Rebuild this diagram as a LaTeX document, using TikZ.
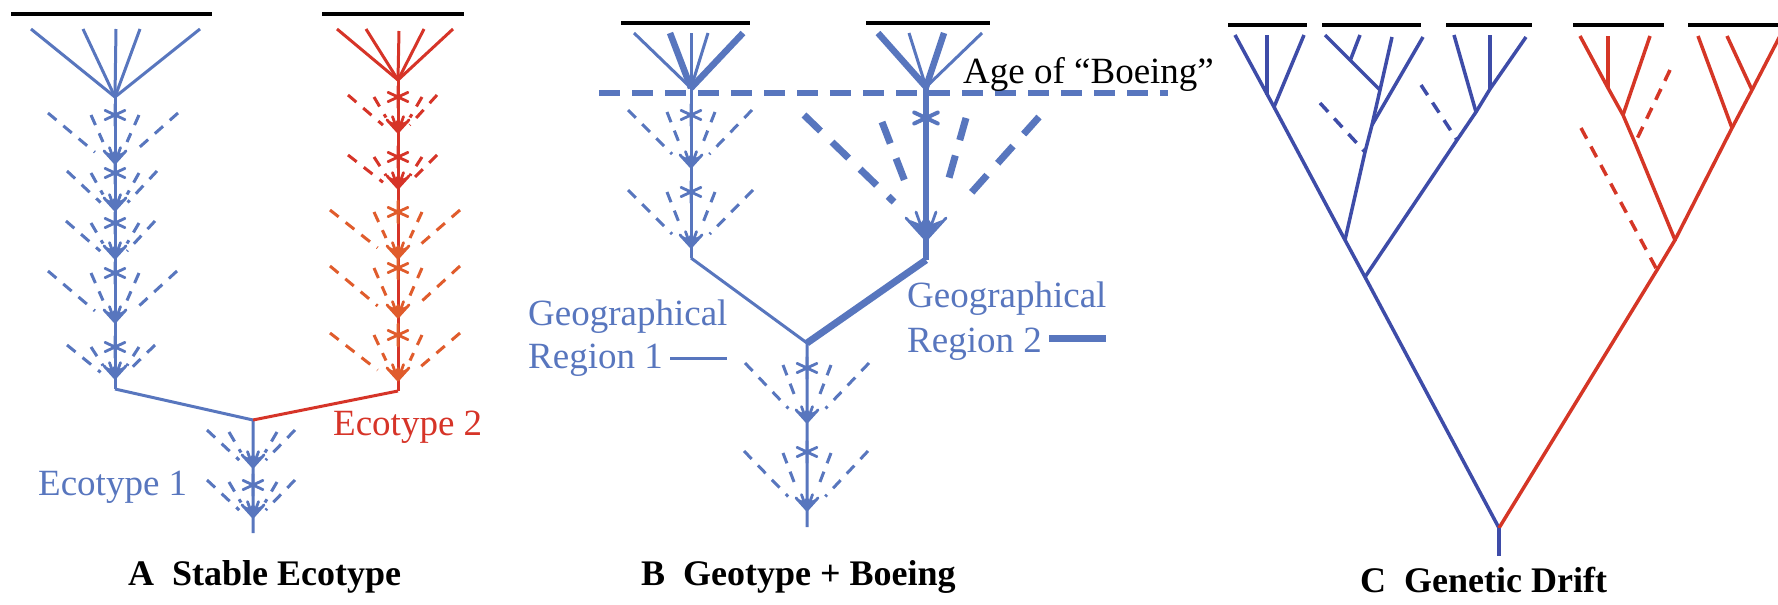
\documentclass[tikz,border=0pt]{standalone}
\usepackage{fontspec}
\setmainfont{Liberation Serif}
\usetikzlibrary{calc}
\definecolor{blueA}{RGB}{88,118,190}
\definecolor{redA}{RGB}{214,52,40}
\definecolor{orangeA}{RGB}{224,92,44}
\definecolor{blueC}{RGB}{62,76,168}
\definecolor{redC}{RGB}{213,54,38}
\tikzset{
  bar/.style={black, line width=3.5pt},
  solidA/.style={line width=3pt},
  dashA/.style={line width=3pt, dash pattern=on 11pt off 9pt},
  dashB/.style={line width=7pt, dash pattern=on 23pt off 16pt},
  ageline/.style={blueA, line width=5.5pt, dash pattern=on 21pt off 12pt},
  lbl/.style={font=\fontsize{37}{40}\selectfont, inner sep=0pt, anchor=base west},
  ttl/.style={font=\fontsize{36}{40}\selectfont\bfseries, inner sep=0pt, anchor=base west},
  treeC/.style={line width=3.5pt},
  dashC/.style={line width=3.5pt, dash pattern=on 12pt off 9pt},
}
% fan of dashed extinct lineages: x0, top y, arrow tip y, left width, right width, colour
\newcommand\fanAB[6]{%
  \coordinate (fP) at (#1,#3+6);
  \coordinate (fOL) at (#1-#4,#2-2);
  \coordinate (fOR) at (#1+#5,#2-2);
  \coordinate (fIL) at (#1-24,#2);
  \coordinate (fIR) at (#1+24,#2);
  \draw[#6,dashA] (fOL) -- ($(fOL)!0.70!(fP)$) (fOR) -- ($(fOR)!0.70!(fP)$)
    (fIL) -- ($(fIL)!0.5!(fP)$) (fIR) -- ($(fIR)!0.5!(fP)$);
}
% asterisk: x, y, colour, radius, width
\newcommand\astk[5]{%
  \draw[#3, line width=#5, line cap=round] (#1,#2) +(25:#4) -- +(205:#4) (#1,#2) +(155:#4) -- +(335:#4)
    (#1,#2) +(90:#4) -- +(270:#4);
}
% arrowhead: x, tip y, colour, scale
\newcommand\arrh[4]{%
  \draw[#3, line width=2.8pt, line cap=round, line join=round]
    (#1-10*#4,#2-11*#4) -- (#1,#2) -- (#1+10*#4,#2-11*#4)
    (#1-5*#4,#2-14*#4) -- (#1,#2) -- (#1+5*#4,#2-14*#4);
  \fill[#3] (#1,#2) -- (#1-8*#4,#2-10*#4) -- (#1-3*#4,#2-8*#4) -- (#1,#2-12*#4)
    -- (#1+3*#4,#2-8*#4) -- (#1+8*#4,#2-10*#4) -- cycle;
}
\begin{document}
\begin{tikzpicture}[x=1pt,y=-1pt]
\useasboundingbox (0,0) rectangle (1778,605);

% ================= Panel A =================
\draw[bar] (11,14) -- (212,14);
\draw[bar] (322,14) -- (464,14);
% blue lineage
\coordinate (Ab) at (115,97);
\foreach \t in {31,83,116,140,200} \draw[blueA,solidA] (\t,29) -- (Ab);
\coordinate (Abb) at (115,389);
\draw[blueA,solidA] (Ab) -- (Abb);
\fanAB{115}{115}{163}{67}{63}{blueA}
\fanAB{115}{173}{210}{48}{42}{blueA}
\fanAB{115}{223}{258}{49}{40}{blueA}
\fanAB{115}{273}{322}{67}{62}{blueA}
\fanAB{115}{347}{378}{48}{40}{blueA}
\foreach \a in {115,173,223,273,347} {\astk{115}{\a}{blueA}{11}{2.8pt}}
\foreach \b in {163,210,258,322,378} {\arrh{115}{\b}{blueA}{1.1}}
% red lineage
\coordinate (Ar) at (398,80);
\foreach \t/\u in {337/29,366/29,399/31,424/29,453/29} \draw[redA,solidA] (\t,\u) -- (Ar);
\coordinate (Arb) at (398,391);
\draw[redA,solidA] (Ar) -- (Arb);
\fanAB{398}{97}{132}{50}{39}{redA}
\fanAB{398}{157}{188}{50}{39}{redA}
\fanAB{398}{212}{258}{68}{62}{orangeA}
\fanAB{398}{268}{317}{68}{62}{orangeA}
\fanAB{398}{335}{380}{68}{62}{orangeA}
\astk{398}{97}{redA}{11}{2.8pt}
\astk{398}{157}{redA}{11}{2.8pt}
\foreach \a in {212,268,335} {\astk{398}{\a}{orangeA}{11}{2.8pt}}
\arrh{398}{132}{redA}{1.1}
\arrh{398}{188}{redA}{1.1}
\foreach \b in {258,317,380} {\arrh{398}{\b}{orangeA}{1.1}}
% common ancestor
\coordinate (AJ) at (253,420);
\coordinate (Aend) at (253,533);
\draw[blueA,solidA] (Abb) -- (AJ) -- (Aend);
\draw[redA,solidA] (AJ) -- (Arb);
\fanAB{253}{432}{467}{46}{42}{blueA}
\fanAB{253}{482}{517}{46}{42}{blueA}
\astk{253}{485}{blueA}{11}{2.8pt}
\arrh{253}{467}{blueA}{1.1}
\arrh{253}{517}{blueA}{1.1}
\node[lbl, text=blueA] (eco1) at (38,495) {Ecotype 1};
\node[lbl, text=redA] (eco2) at (333,435) {Ecotype 2};
\node[ttl] (tA) at (128,585) {A\hspace{0.5em}Stable Ecotype};

% ================= Panel B =================
\draw[bar] (621,23) -- (750,23);
\draw[bar] (866,23) -- (990,23);
\coordinate (B1) at (691,88);
\coordinate (B2) at (926,87);
\foreach \t/\w in {634/3pt,670/6.5pt,691/3pt,708/3pt,743/6.5pt} \draw[blueA,line width=\w] (\t,33) -- (B1);
\foreach \t/\w in {878/6.5pt,909/3pt,944/6.5pt,982/3pt} \draw[blueA,line width=\w] (\t,33) -- (B2);
\coordinate (ageL) at (599,93);
\coordinate (ageR) at (1168,93);
\draw[ageline] (ageL) -- (ageR);
\node[lbl] (age) at (963,83) {Age of “Boeing”};
% left (region 1)
\coordinate (B1b) at (691,258);
\draw[blueA,solidA] (B1) -- (B1b);
\fanAB{691}{112}{167}{63}{61}{blueA}
\fanAB{691}{192}{247}{63}{62}{blueA}
\astk{691}{115}{blueA}{11}{2.8pt}
\astk{691}{192}{blueA}{11}{2.8pt}
\arrh{691}{167}{blueA}{1.1}
\arrh{691}{247}{blueA}{1.1}
% right (region 2), thick
\coordinate (B2b) at (926,260);
\draw[blueA,line width=6.5pt] (B2) -- (B2b);
\draw[blueA,dashB] (804,115) -- (894,202);
\draw[blueA,dashB] (882,122) -- (909,192);
\draw[blueA,dashB] (966,118) -- (945,192);
\draw[blueA,dashB] (1039,117) -- (963,202);
\astk{926}{118}{blueA}{13}{4pt}
\arrh{926}{240}{blueA}{2}
% junction
\coordinate (BJ) at (807,343);
\coordinate (Bend) at (807,527);
\draw[blueA,solidA] (B1b) -- (BJ) -- (Bend);
\draw[blueA,line width=7pt] (B2b) -- (BJ);
\fanAB{807}{365}{422}{62}{62}{blueA}
\fanAB{807}{453}{510}{63}{61}{blueA}
\astk{807}{368}{blueA}{11}{2.8pt}
\astk{807}{452}{blueA}{11}{2.8pt}
\arrh{807}{422}{blueA}{1.1}
\arrh{807}{510}{blueA}{1.1}
\node[lbl, text=blueA] (g1a) at (528,325) {Geographical};
\node[lbl, text=blueA] (g1b) at (528,368) {Region 1};
\coordinate (r1a) at (670,358);
\coordinate (r1b) at (727,358);
\draw[blueA,line width=3pt] (r1a) -- (r1b);
\node[lbl, text=blueA] (g2a) at (907,307) {Geographical};
\node[lbl, text=blueA] (g2b) at (907,352) {Region 2};
\coordinate (r2a) at (1049,338);
\coordinate (r2b) at (1106,338);
\draw[blueA,line width=7pt] (r2a) -- (r2b);
\node[ttl] (tB) at (641,585) {B\hspace{0.5em}Geotype + Boeing};

% ================= Panel C =================
\draw[bar] (1228,25) -- (1307,25);
\draw[bar] (1322,25) -- (1421,25);
\draw[bar] (1446,25) -- (1532,25);
\draw[bar] (1573,25) -- (1664,25);
\draw[bar] (1688,25) -- (1778,25);
% blue clade
\coordinate (root) at (1499,528);
\coordinate (rootb) at (1499,556);
\coordinate (bt1) at (1235,35);
\coordinate (bt2) at (1267,35);
\coordinate (bt2j) at (1267,95);
\coordinate (bt3) at (1304,35);
\coordinate (bn1) at (1274,107);
\coordinate (bn2) at (1345,240);
\coordinate (bn8) at (1365,277);
\draw[blueC,treeC] (bt1) -- (bn1) -- (bn2) -- (bn8) -- (root);
\draw[blueC,treeC] (bt2) -- (bt2j);
\draw[blueC,treeC] (bt3) -- (bn1);
% group 2
\coordinate (ba) at (1325,35);
\coordinate (bb) at (1360,35);
\coordinate (bbj) at (1350,61);
\coordinate (bc) at (1392,37);
\coordinate (bd) at (1423,37);
\coordinate (bn3) at (1380,90);
\coordinate (bn4) at (1372,125);
\coordinate (bn5) at (1365,152);
\coordinate (bx1) at (1320,103);
\draw[blueC,treeC] (bc) -- (bn3) -- (bn4) -- (bn5) -- (bn2);
\draw[blueC,treeC] (ba) -- (bn3);
\draw[blueC,treeC] (bb) -- (bbj);
\draw[blueC,treeC] (bd) -- (bn4);
\draw[blueC,dashC] (bx1) -- (bn5);
% group 3
\coordinate (be) at (1454,35);
\coordinate (bf) at (1490,35);
\coordinate (bfj) at (1490,89);
\coordinate (bg) at (1526,37);
\coordinate (bn6) at (1476,112);
\coordinate (bn7) at (1457,140);
\coordinate (bx2) at (1421,85);
\draw[blueC,treeC] (bg) -- (bfj) -- (bn6) -- (bn7) -- (bn8);
\draw[blueC,treeC] (bf) -- (bfj);
\draw[blueC,treeC] (be) -- (bn6);
\draw[blueC,dashC] (bx2) -- (bn7);
% red clade
\coordinate (rh) at (1580,36);
\coordinate (ri) at (1608,36);
\coordinate (rij) at (1608,88);
\coordinate (rj) at (1650,36);
\coordinate (rn2) at (1623,115);
\coordinate (rn3) at (1635,143);
\coordinate (rn4) at (1675,240);
\coordinate (rn5) at (1657,270);
\coordinate (rx1) at (1670,70);
\coordinate (rx2) at (1581,128);
\coordinate (rk) at (1698,36);
\coordinate (rl) at (1727,36);
\coordinate (rm) at (1781,34);
\coordinate (rn6) at (1732,128);
\coordinate (rn7) at (1752,90);
\draw[redC,treeC] (rh) -- (rij) -- (rn2) -- (rn3) -- (rn4) -- (rn5) -- (root);
\draw[redC,treeC] (ri) -- (rij);
\draw[redC,treeC] (rj) -- (rn2);
\draw[redC,dashC] (rx1) -- (rn3);
\draw[redC,dashC] (rx2) -- (rn5);
\draw[redC,treeC] (rm) -- (rn7) -- (rn6) -- (rn4);
\draw[redC,treeC] (rl) -- (rn7);
\draw[redC,treeC] (rk) -- (rn6);
\draw[blueC,treeC] (root) -- (rootb);
\node[ttl] (tC) at (1360,592) {C\hspace{0.5em}Genetic Drift};
\end{tikzpicture}
\end{document}
